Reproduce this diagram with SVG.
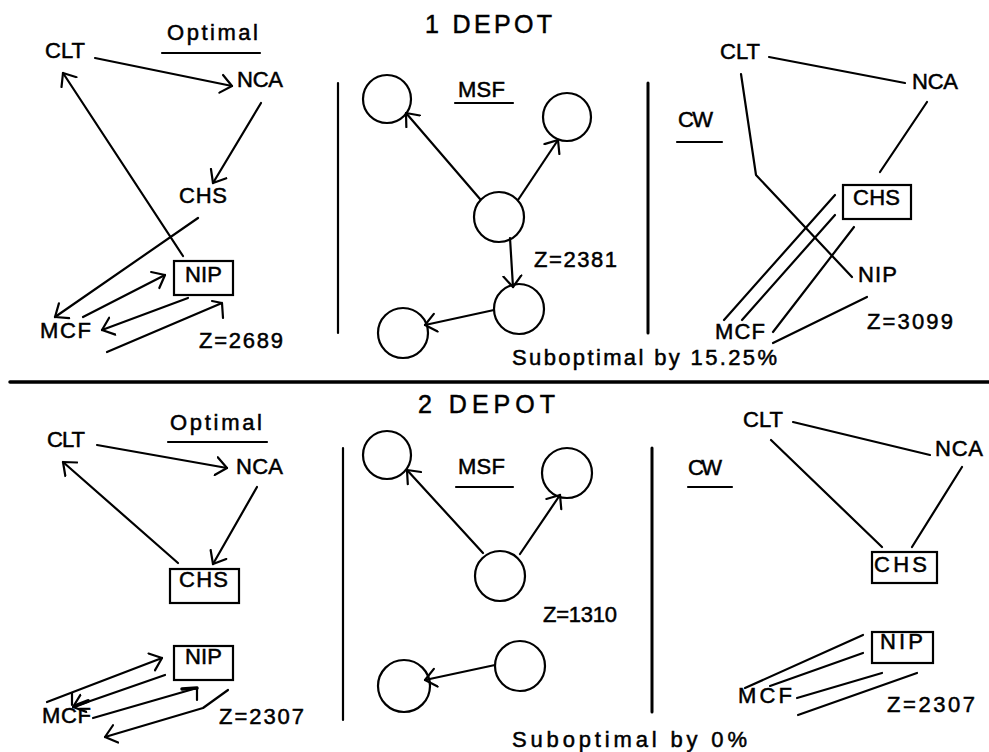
<svg xmlns="http://www.w3.org/2000/svg" width="989" height="752" viewBox="0 0 989 752">
<style>
.t{font-family:"Liberation Sans",Arial,sans-serif;font-size:22px;fill:#000;stroke:#000;stroke-width:0.5}
.h{font-size:25px}
.ln{stroke:#000;stroke-width:2.2;fill:none;stroke-linecap:round;stroke-linejoin:round}
.bx{stroke:#000;stroke-width:2.2;fill:none}
.c{stroke:#000;stroke-width:2.2;fill:none}
.ar{marker-end:url(#ah)}
.thick{stroke-width:3.5}
</style>
<defs>
<marker id="ah" markerUnits="userSpaceOnUse" viewBox="0 0 24 24" markerWidth="24" markerHeight="24" refX="12" refY="12" orient="auto">
<path d="M1,3 L12,12 L1,21" fill="none" stroke="#000" stroke-width="2.2" stroke-linecap="round" stroke-linejoin="round"/>
</marker>
</defs>
<rect width="989" height="752" fill="#fff"/>

<!-- frame -->
<g id="frame">
<line class="ln thick" x1="10" y1="382" x2="989" y2="382"/>
<line class="ln" x1="338" y1="83" x2="338" y2="333"/>
<line class="ln" x1="648" y1="83" x2="648" y2="333" style="stroke-width:3"/>
<line class="ln" x1="343" y1="448" x2="343" y2="720"/>
<line class="ln" x1="652" y1="448" x2="652" y2="712" style="stroke-width:3"/>
</g>

<!-- titles and labels -->
<g id="titles">
<text class="t h" x="425" y="33" textLength="127" lengthAdjust="spacing">1 DEPOT</text>
<text class="t h" x="418" y="413" textLength="137" lengthAdjust="spacing">2 DEPOT</text>
<text class="t" x="167" y="40" textLength="91" lengthAdjust="spacing">Optimal</text>
<line class="ln" x1="162" y1="53" x2="260" y2="53"/>
<text class="t" x="458" y="97" textLength="47" lengthAdjust="spacing">MSF</text>
<line class="ln" x1="455" y1="103" x2="513" y2="103"/>
<text class="t" x="678" y="127" textLength="35" lengthAdjust="spacing">CW</text>
<line class="ln" x1="677" y1="142" x2="722" y2="142"/>
<text class="t" x="170" y="430" textLength="92" lengthAdjust="spacing">Optimal</text>
<line class="ln" x1="168" y1="442" x2="267" y2="442"/>
<text class="t" x="458" y="474" textLength="47" lengthAdjust="spacing">MSF</text>
<line class="ln" x1="456" y1="487" x2="513" y2="487"/>
<text class="t" x="688" y="475" textLength="34" lengthAdjust="spacing">CW</text>
<line class="ln" x1="688" y1="487" x2="732" y2="487"/>
<text class="t" x="199" y="348" textLength="84" lengthAdjust="spacing">Z=2689</text>
<text class="t" x="534" y="267" textLength="83" lengthAdjust="spacing">Z=2381</text>
<text class="t" x="867" y="329" textLength="86" lengthAdjust="spacing">Z=3099</text>
<text class="t" x="512" y="365" textLength="265" lengthAdjust="spacing">Suboptimal by 15.25%</text>
<text class="t" x="219" y="724" textLength="85" lengthAdjust="spacing">Z=2307</text>
<text class="t" x="543" y="622" textLength="74" lengthAdjust="spacing">Z=1310</text>
<text class="t" x="887" y="712" textLength="88" lengthAdjust="spacing">Z=2307</text>
<text class="t" x="512" y="747" textLength="235" lengthAdjust="spacing">Suboptimal by 0%</text>
</g>

<!-- 1 depot, optimal -->
<g id="d1-opt-clt"><text class="t" x="45" y="58" textLength="40" lengthAdjust="spacing">CLT</text></g>
<g id="d1-opt-nca"><text class="t" x="237" y="87" textLength="46" lengthAdjust="spacing">NCA</text></g>
<g id="d1-opt-chs"><text class="t" x="179" y="203" textLength="48" lengthAdjust="spacing">CHS</text></g>
<g id="d1-opt-nip"><rect class="bx" x="174" y="261" width="59" height="34"/><text class="t" x="185" y="282" textLength="37" lengthAdjust="spacing">NIP</text></g>
<g id="d1-opt-mcf"><text class="t" x="40" y="338" textLength="51" lengthAdjust="spacing">MCF</text></g>

<!-- 1 depot, MSF -->
<g id="d1-msf-n1"><circle class="c" cx="387" cy="99" r="24"/></g>
<g id="d1-msf-n2"><circle class="c" cx="567" cy="117" r="24"/></g>
<g id="d1-msf-n3"><circle class="c" cx="499" cy="217" r="25"/></g>
<g id="d1-msf-n4"><circle class="c" cx="519" cy="309" r="25"/></g>
<g id="d1-msf-n5"><circle class="c" cx="403" cy="333" r="25"/></g>

<!-- 1 depot, CW -->
<g id="d1-cw-clt"><text class="t" x="720" y="59" textLength="40" lengthAdjust="spacing">CLT</text></g>
<g id="d1-cw-nca"><text class="t" x="912" y="89" textLength="46" lengthAdjust="spacing">NCA</text></g>
<g id="d1-cw-chs"><rect class="bx" x="843" y="185" width="68" height="34"/><text class="t" x="853" y="205" textLength="47" lengthAdjust="spacing">CHS</text></g>
<g id="d1-cw-nip"><text class="t" x="858" y="282" textLength="39" lengthAdjust="spacing">NIP</text></g>
<g id="d1-cw-mcf"><text class="t" x="715" y="339" textLength="50" lengthAdjust="spacing">MCF</text></g>

<!-- 2 depot, optimal -->
<g id="d2-opt-clt"><text class="t" x="47" y="447" textLength="38" lengthAdjust="spacing">CLT</text></g>
<g id="d2-opt-nca"><text class="t" x="236" y="474" textLength="47" lengthAdjust="spacing">NCA</text></g>
<g id="d2-opt-chs"><rect class="bx" x="170" y="569" width="69" height="34"/><text class="t" x="179" y="587" textLength="49" lengthAdjust="spacing">CHS</text></g>
<g id="d2-opt-nip"><rect class="bx" x="174" y="646" width="59" height="34"/><text class="t" x="185" y="664" textLength="37" lengthAdjust="spacing">NIP</text></g>
<g id="d2-opt-mcf"><text class="t" x="42" y="723" textLength="49" lengthAdjust="spacing">MCF</text></g>

<!-- 2 depot, MSF -->
<g id="d2-msf-n1"><circle class="c" cx="387" cy="455" r="24"/></g>
<g id="d2-msf-n2"><circle class="c" cx="567" cy="473" r="25"/></g>
<g id="d2-msf-n3"><circle class="c" cx="500" cy="576" r="25"/></g>
<g id="d2-msf-n4"><circle class="c" cx="520" cy="666" r="25"/></g>
<g id="d2-msf-n5"><circle class="c" cx="404" cy="686" r="26"/></g>

<!-- 2 depot, CW -->
<g id="d2-cw-clt"><text class="t" x="743" y="427" textLength="40" lengthAdjust="spacing">CLT</text></g>
<g id="d2-cw-nca"><text class="t" x="935" y="456" textLength="48" lengthAdjust="spacing">NCA</text></g>
<g id="d2-cw-chs"><rect class="bx" x="872" y="552" width="65" height="31"/><text class="t" x="874" y="572" textLength="53" lengthAdjust="spacing">CHS</text></g>
<g id="d2-cw-nip"><rect class="bx" x="872" y="632" width="61" height="31"/><text class="t" x="880" y="649" textLength="43" lengthAdjust="spacing">NIP</text></g>
<g id="d2-cw-mcf"><text class="t" x="738" y="703" textLength="54" lengthAdjust="spacing">MCF</text></g>

<g id="connectors">
<!-- 1 depot optimal -->
<path class="ln ar" d="M95,58 L232,86"/>
<path class="ln ar" d="M261,103 L213,183"/>
<path class="ln ar" d="M183,256 L63,73"/>
<path class="ln ar" d="M198,218 L55,317"/>
<path class="ln ar" d="M83,317 L165,275"/>
<path class="ln ar" d="M188,298 L102,330"/>
<path class="ln" d="M107,352 L222,303 L223,318 M212,301 L222,303"/>
<!-- 1 depot MSF -->
<path class="ln ar" d="M480,199 L406,113"/>
<path class="ln ar" d="M518,200 L558,140"/>
<path class="ln ar" d="M510,238 L513,287"/>
<path class="ln ar" d="M494,310 L425,325"/>
<!-- 1 depot CW -->
<path class="ln" d="M769,57 L905,83"/>
<path class="ln" d="M741,74 L756,175 L852,277"/>
<path class="ln" d="M927,102 L880,172"/>
<path class="ln" d="M835,195 L724,320"/>
<path class="ln" d="M835,215 L742,320"/>
<path class="ln" d="M854,227 L773,332"/>
<path class="ln" d="M773,343 L867,297"/>
<!-- 2 depot optimal -->
<path class="ln ar" d="M97,445 L227,468"/>
<path class="ln ar" d="M178,563 L63,462"/>
<path class="ln ar" d="M257,487 L213,564"/>
<path class="ln ar" d="M47,702 L162,658"/>
<path class="ln" d="M72,693 L72,705"/>
<path class="ln ar" d="M165,675 L73,707"/>
<path class="ln" d="M75,706 L88,701" style="stroke-width:4"/>
<path class="ln" d="M93,718 L197,688 L197,700"/>
<path class="ln" d="M182,689 L197,688" style="stroke-width:3.5"/>
<path class="ln ar" d="M228,690 L203,708 L105,737"/>
<!-- 2 depot MSF -->
<path class="ln ar" d="M483,553 L407,470"/>
<path class="ln ar" d="M520,554 L560,495"/>
<path class="ln ar" d="M495,665 L425,680"/>
<!-- 2 depot CW -->
<path class="ln" d="M793,422 L930,455"/>
<path class="ln" d="M771,440 L882,547"/>
<path class="ln" d="M962,467 L912,547"/>
<path class="ln" d="M745,688 L863,635"/>
<path class="ln" d="M770,686 L863,653"/>
<path class="ln" d="M797,698 L882,673"/>
<path class="ln" d="M798,715 L917,673"/>
</g>
</svg>
